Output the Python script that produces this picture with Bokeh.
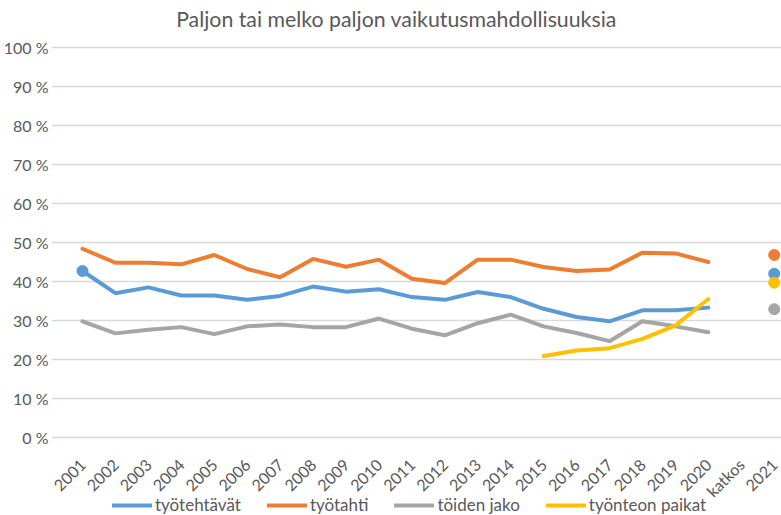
import math
from bokeh.plotting import figure
from bokeh.models import Range1d, Legend, LegendItem, FixedTicker, Label
from bokeh.embed import file_html
from bokeh.resources import INLINE

# ---- data ----
categories = ["2001", "2002", "2003", "2004", "2005", "2006", "2007", "2008", "2009", "2010",
              "2011", "2012", "2013", "2014", "2015", "2016", "2017", "2018", "2019", "2020",
              "katkos", "2021"]
years = categories[:20]
tyotehtavat = [42.7, 37.0, 38.5, 36.4, 36.4, 35.3, 36.3, 38.7, 37.4, 38.0,
               36.0, 35.3, 37.3, 36.0, 33.0, 30.9, 29.8, 32.6, 32.6, 33.3]
tyotahti = [48.4, 44.8, 44.8, 44.4, 46.8, 43.2, 41.1, 45.8, 43.8, 45.6,
            40.7, 39.6, 45.6, 45.6, 43.7, 42.7, 43.1, 47.4, 47.2, 45.0]
toiden_jako = [29.8, 26.7, 27.6, 28.3, 26.5, 28.5, 29.0, 28.3, 28.3, 30.5,
               27.9, 26.2, 29.3, 31.5, 28.5, 26.8, 24.7, 29.8, 28.5, 27.0]
paikat_years = ["2015", "2016", "2017", "2018", "2019", "2020"]
tyonteon_paikat = [20.9, 22.3, 22.9, 25.3, 28.7, 35.5]
series_names = ["työtehtävät", "työtahti", "töiden jako", "työnteon paikat"]
values_2021 = [42.0, 46.8, 32.9, 39.7]
colors = ["#5B9BD5", "#ED7D31", "#A5A5A5", "#FFC000"]
y_ticks = [0, 10, 20, 30, 40, 50, 60, 70, 80, 90, 100]
title_text = "Paljon tai melko paljon vaikutusmahdollisuuksia"

idx = {c: i for i, c in enumerate(categories)}
FONT = "Lato"
TXT = "#595959"
FH = 515          # frame covers the whole visible height
FW = 732          # frame width
LEFT = 41         # left border (y tick labels)
PX = 3.9          # pixels per percentage point
STEP = 32.94      # pixels per category
TOP_PAD = 47      # pixels above the 100 % line (title area)
X0 = -0.5 - 14.5 / STEP

p = figure(frame_width=FW, frame_height=FH,
           x_range=Range1d(X0, X0 + FW / STEP),
           y_range=Range1d(-(FH - TOP_PAD - 100 * PX) / PX, 100 + TOP_PAD / PX),
           output_backend="svg", toolbar_location=None,
           min_border_left=LEFT, min_border_right=0, min_border_top=0, min_border_bottom=0)
p.outline_line_color = None
p.background_fill_color = "white"

title = Label(x=345, y=FH - 18, x_units="screen", y_units="screen", text=title_text,
              text_align="center", text_baseline="middle", text_font=FONT,
              text_font_size="21.3px", text_color=TXT)
p.add_layout(title)

series = [
    (years, tyotehtavat),
    (years, tyotahti),
    (years, toiden_jako),
    (paikat_years, tyonteon_paikat),
]
renderers = []
for (cats, vals), col in zip(series, colors):
    r = p.line([idx[c] for c in cats], vals, line_color=col, line_width=4,
               line_cap="round", line_join="round")
    renderers.append(r)

# marker on first työtehtävät point
p.scatter([idx[years[0]]], [tyotehtavat[0]], size=11, color=colors[0])
# 2021 values
for v, col in zip(values_2021, colors):
    p.scatter([idx["2021"]], [v], size=11, color=col)

# x axis drawn at the 0 % line
p.xaxis.fixed_location = 0
p.xaxis.ticker = FixedTicker(ticks=list(range(len(categories))))
p.xaxis.major_label_overrides = {i: c for i, c in enumerate(categories)}
p.xaxis.major_label_orientation = math.pi / 4
p.xaxis.axis_line_color = None
p.xaxis.major_tick_line_color = None
p.xaxis.minor_tick_line_color = None
p.xaxis.major_tick_out = 0
p.xaxis.major_tick_in = 0
p.xaxis.axis_label_standoff = 0
p.xaxis.major_label_text_font = FONT
p.xaxis.major_label_text_font_size = "16px"
p.xaxis.major_label_text_color = TXT
p.xaxis.major_label_standoff = 24

p.yaxis.ticker = FixedTicker(ticks=y_ticks)
p.yaxis.major_label_overrides = {t: f"{t} %" for t in y_ticks}
p.yaxis.axis_line_color = None
p.yaxis.major_tick_line_color = None
p.yaxis.minor_tick_line_color = None
p.yaxis.major_tick_out = 0
p.yaxis.major_tick_in = 0
p.yaxis.major_label_text_font = FONT
p.yaxis.major_label_text_font_size = "16px"
p.yaxis.major_label_text_color = TXT
p.yaxis.major_label_standoff = 3

p.xgrid.grid_line_color = None
p.ygrid.ticker = FixedTicker(ticks=y_ticks)
p.ygrid.grid_line_color = "#D9D9D9"
p.ygrid.grid_line_width = 1.5

legend = Legend(items=[LegendItem(label=n, renderers=[r]) for n, r in zip(series_names, renderers)],
                orientation="horizontal", location=(61, 0),
                glyph_width=40, glyph_height=16, label_height=16, label_standoff=3, spacing=26,
                padding=0, margin=0, border_line_color=None, background_fill_alpha=0,
                label_text_font=FONT, label_text_font_size="17px", label_text_color=TXT)
p.add_layout(legend, "center")

open("out.html", "w").write(file_html(p, INLINE))
